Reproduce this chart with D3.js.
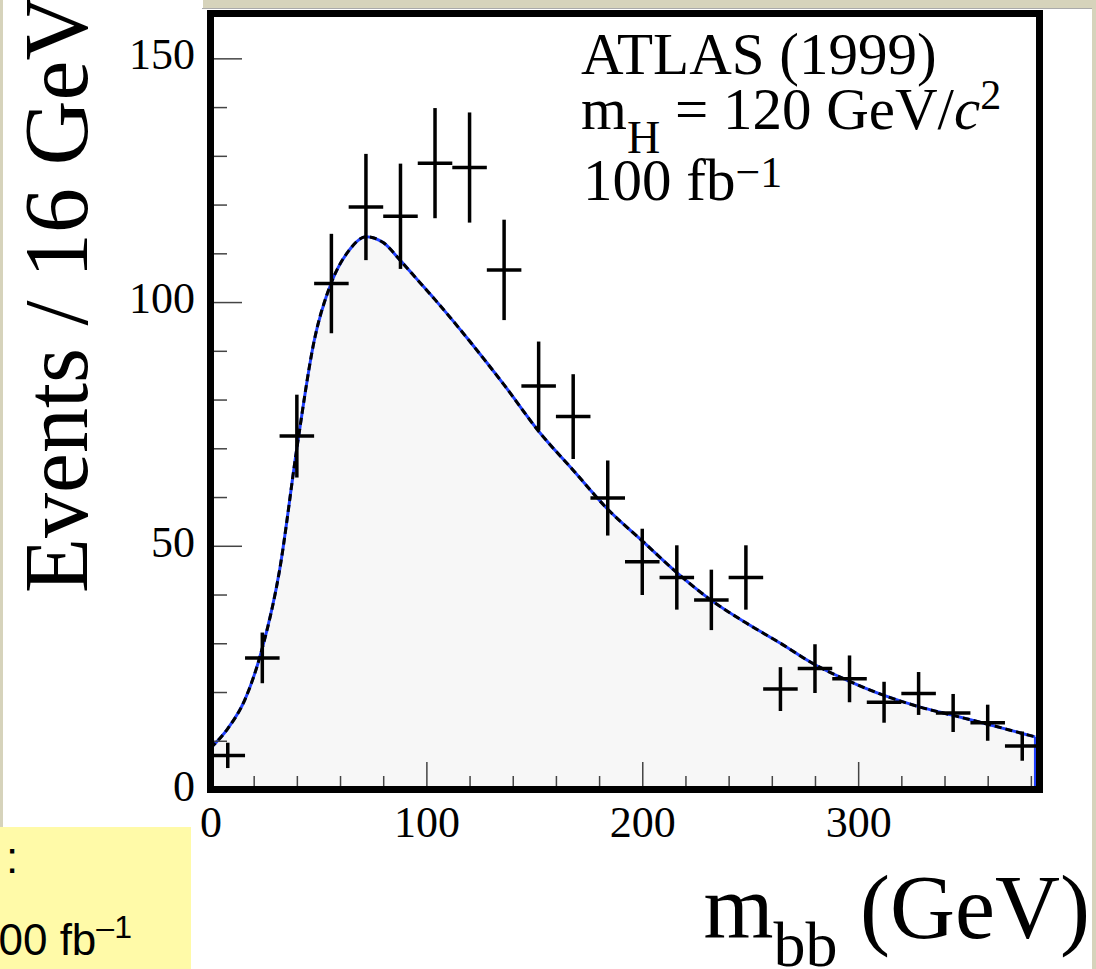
<!DOCTYPE html>
<meta charset="utf-8">
<style>
body {
  margin: 0;
  background: #d6d3bb;
}
svg text {
  font-family: "Liberation Serif", "Times New Roman", serif;
  fill: #000;
}
.tick line {
  stroke: #444;
  stroke-width: 1.5px;
}
.tick text {
  font-size: 44px;
}
</style>
<body>
<svg id="chart" width="1096" height="969"></svg>
<script src="https://d3js.org/d3.v7.min.js"></script>
<script>

// bin centres (GeV), 16 GeV bins
var binCenters = [8, 24, 40, 56, 72, 88, 104, 120, 136, 152, 168, 184,
                  200, 216, 232, 248, 264, 280, 296, 312, 328, 344, 360, 376];
var counts = [7, 27, 72.5, 103.8, 119.5, 117.6, 128.5, 127.6, 106.6, 82.8, 76.5, 59.8,
              46.7, 43.5, 38.9, 43.5, 20.6, 24.8, 22.7, 17.9, 19.7, 15.7, 13.7, 8.9];
var errors = [2.6, 5.2, 8.5, 10.2, 10.9, 10.8, 11.3, 11.3, 10.3, 9.1, 8.7, 7.7,
              6.8, 6.6, 6.2, 6.6, 4.5, 5.0, 4.8, 4.2, 4.4, 3.9, 3.7, 3.0];

// background fit curve
var fitX = [0, 8, 16, 24, 32, 40, 48, 56, 64, 72, 80, 88, 96, 104, 120, 136, 152, 168,
            184, 200, 216, 232, 248, 264, 280, 296, 312, 328, 344, 360, 376, 382];
var fitY = [8.5, 12.5, 18.5, 29, 45, 70, 92, 104, 110.5, 113.4, 112.2, 108.5, 104.5, 100.5,
            92, 83, 73.5, 65.5, 57.5, 51, 44.5, 38.8, 34.2, 30, 25.6, 22.2, 19.3, 17,
            15.2, 13.4, 11.5, 10.8];

var xMajor = [0, 100, 200, 300];
var xMinor = [20, 40, 60, 80, 120, 140, 160, 180, 220, 240, 260, 280, 320, 340, 360, 380];
var yMajor = [0, 50, 100, 150];
var yMinor = [10, 20, 30, 40, 60, 70, 80, 90, 110, 120, 130, 140];

var halfBin = 8;

var svg = d3.select("#chart");

// slide pieces around the plot image
svg.append("rect").attr("x", 3).attr("y", 0).attr("width", 200).attr("height", 969).attr("fill", "#fff");
svg.append("rect").attr("x", 202).attr("y", 8).attr("width", 890).attr("height", 961).attr("fill", "#fff");
svg.append("line").attr("x1", 202).attr("x2", 1092).attr("y1", 8.5).attr("y2", 8.5)
   .attr("stroke", "#aaa").attr("stroke-width", 1);

var x = d3.scaleLinear().domain([0, 384]).range([210.5, 1039.5]);
var y = d3.scaleLinear().domain([0, 159.2]).range([789.5, 13.5]);

var fit = fitX.map((d, i) => ({x: d, y: fitY[i]}));

// filled area under the fit
var area = d3.area()
  .x(d => x(d.x))
  .y0(y(0))
  .y1(d => y(d.y))
  .curve(d3.curveMonotoneX);

svg.append("path")
   .datum(fit)
   .attr("d", area)
   .attr("fill", "#f7f7f7");

var line = d3.line()
  .x(d => x(d.x))
  .y(d => y(d.y))
  .curve(d3.curveMonotoneX);

svg.append("path")
   .datum(fit)
   .attr("d", line)
   .attr("fill", "none")
   .attr("stroke", "#2040ff")
   .attr("stroke-width", 3);

svg.append("path")
   .datum(fit)
   .attr("d", line)
   .attr("fill", "none")
   .attr("stroke", "#000")
   .attr("stroke-width", 3)
   .attr("stroke-dasharray", "7,4");

// drop of the histogram edge at the right end
var last = fit[fit.length - 1];
svg.append("line")
   .attr("x1", x(last.x)).attr("x2", x(last.x))
   .attr("y1", y(last.y)).attr("y2", y(0))
   .attr("stroke", "#2040ff")
   .attr("stroke-width", 2.5);

// data points with error bars
var pts = svg.append("g").attr("stroke", "#000").attr("stroke-width", 3.5);
binCenters.forEach(function(c, i) {
  pts.append("line")
     .attr("x1", x(c - halfBin)).attr("x2", x(c + halfBin))
     .attr("y1", y(counts[i])).attr("y2", y(counts[i]));
  pts.append("line")
     .attr("x1", x(c)).attr("x2", x(c))
     .attr("y1", y(counts[i] - errors[i])).attr("y2", y(counts[i] + errors[i]));
});

// axes: ticks drawn inward from the frame
svg.append("g")
  .attr("transform", "translate(0," + y(0) + ")")
  .call(d3.axisBottom(x).tickValues(xMajor).tickSize(-27.5).tickPadding(16).tickFormat(d3.format("d")));
svg.append("g")
  .attr("transform", "translate(0," + y(0) + ")")
  .call(d3.axisBottom(x).tickValues(xMinor).tickSize(-13.5).tickFormat(""));

var yAxis = svg.append("g")
  .attr("transform", "translate(" + x(0) + ",0)")
  .call(d3.axisLeft(y).tickValues(yMajor).tickSize(-31.5).tickPadding(15.5).tickFormat(d3.format("d")));
svg.append("g")
  .attr("transform", "translate(" + x(0) + ",0)")
  .call(d3.axisLeft(y).tickValues(yMinor).tickSize(-16.5).tickFormat(""));

svg.selectAll(".domain").remove();
svg.selectAll(".tick text").attr("font-family", null).attr("font-size", null);
yAxis.selectAll(".tick text").attr("dy", "0.24em");

// frame
svg.append("rect")
   .attr("x", x(0)).attr("y", y(159.2))
   .attr("width", x(384) - x(0)).attr("height", y(0) - y(159.2))
   .attr("fill", "none")
   .attr("stroke", "#000")
   .attr("stroke-width", 7);

// label box in the plot
var lab = svg.append("g").attr("font-size", 59);
lab.append("text").attr("x", 581).attr("y", 74).text("ATLAS (1999)");
var l2 = lab.append("text").attr("x", 581).attr("y", 129);
l2.append("tspan").text("m");
l2.append("tspan").attr("font-size", 46).attr("dy", 24).text("H");
l2.append("tspan").attr("dy", -24).text(" = 120 GeV/");
l2.append("tspan").attr("font-style", "italic").text("c");
l2.append("tspan").attr("font-size", 42).attr("dy", -20).text("2");
var l3 = lab.append("text").attr("x", 583).attr("y", 200);
l3.append("tspan").text("100 fb");
l3.append("tspan").attr("font-size", 44).attr("dy", -13).text("\u22121");

// axis titles
svg.append("text")
   .attr("transform", "translate(87,593) rotate(-90)")
   .attr("font-size", 90)
   .text("Events / 16 GeV");

var xt = svg.append("text")
   .attr("x", 1090).attr("y", 938)
   .attr("text-anchor", "end")
   .attr("font-size", 90);
xt.append("tspan").text("m");
xt.append("tspan").attr("font-size", 64).attr("dy", 28).text("bb");
xt.append("tspan").attr("dy", -28).text(" (GeV)");

// slide note box at bottom left
svg.append("rect").attr("x", 0).attr("y", 827).attr("width", 191).attr("height", 142).attr("fill", "#fffaa8");
svg.append("rect").attr("x", 0).attr("y", 0).attr("width", 3).attr("height", 827).attr("fill", "#d6d3bb");
var note = svg.append("g")
   .attr("font-size", 44);
note.append("text").attr("x", 6).attr("y", 873).attr("fill", "#ff2a00")
    .style("font-family", "'Liberation Sans', Arial, sans-serif").text(":");
var nt = note.append("text").attr("x", -26).attr("y", 955).attr("fill", "#ff2a00")
    .style("font-family", "'Liberation Sans', Arial, sans-serif");
nt.append("tspan").text("100 fb");
nt.append("tspan").attr("font-size", 32).attr("dy", -17).text("\u20131");

</script>
</body>
